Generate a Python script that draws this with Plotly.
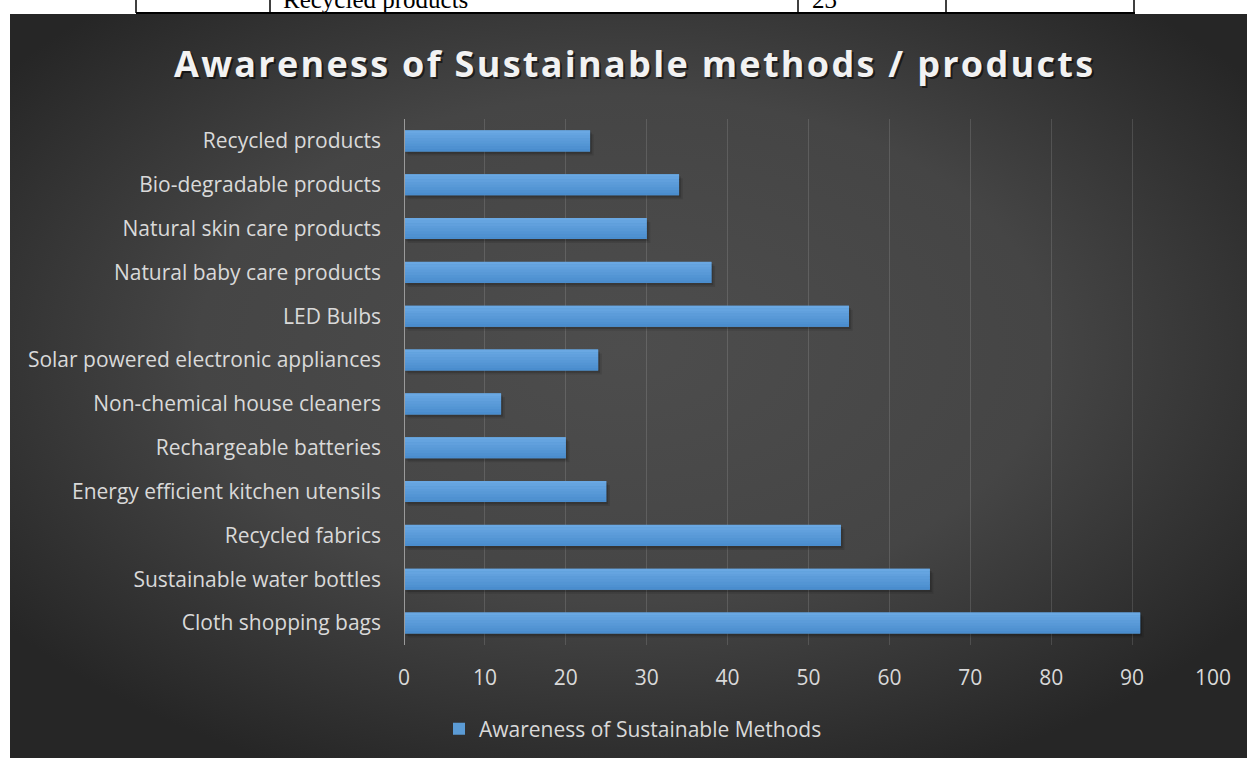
import base64
import plotly.graph_objects as go

W, H = 1247, 758

categories = [
    "Cloth shopping bags",
    "Sustainable water bottles",
    "Recycled fabrics",
    "Energy efficient kitchen utensils",
    "Rechargeable batteries",
    "Non-chemical house cleaners",
    "Solar powered electronic appliances",
    "LED Bulbs",
    "Natural baby care products",
    "Natural skin care products",
    "Bio-degradable products",
    "Recycled products",
]
values = [91, 65, 54, 25, 20, 12, 24, 55, 38, 30, 34, 23]
x_ticks = [0, 10, 20, 30, 40, 50, 60, 70, 80, 90, 100]
series_name = "Awareness of Sustainable Methods"
title_text = "Awareness of Sustainable methods / products"
table_cells = ["Recycled products", "23"]


def px(x):
    return x / W


def py(y):
    return 1 - y / H


FONT = "Open Sans"
TXT = "#d9d9d9"
FS = 21
BAR_W = 0.48

fig = go.Figure()
# soft shadow behind bars (two faint layers)
for sh_off, sh_base, sh_a in [(0.09, 0.45, 0.10), (0.05, 0.22, 0.16)]:
    fig.add_trace(go.Bar(
        x=values, y=categories, orientation="h", base=sh_base,
        offset=-BAR_W / 2 - sh_off, width=BAR_W,
        marker=dict(color="rgba(0,0,0,%.2f)" % sh_a, line=dict(width=0)),
        showlegend=False, hoverinfo="skip",
    ))
# main series
fig.add_trace(go.Bar(
    x=values, y=categories, orientation="h", name=series_name,
    offset=-BAR_W / 2, width=BAR_W,
    marker=dict(color="#5b9bd5", line=dict(width=0)),
))
# vertical shading bands (light top -> darker bottom)
top_rgb = (108, 170, 228)
bot_rgb = (72, 139, 205)
nb = 8
bw = BAR_W / nb
for k in range(nb):
    t = (k + 0.5) / nb
    col = "rgb(%d,%d,%d)" % tuple(round(a + (b - a) * t) for a, b in zip(top_rgb, bot_rgb))
    fig.add_trace(go.Bar(
        x=values, y=categories, orientation="h",
        offset=BAR_W / 2 - bw * (k + 1), width=bw * 1.02,
        marker=dict(color=col, line=dict(width=0)),
        showlegend=False, hoverinfo="skip",
    ))

svg = (
    "<svg xmlns='http://www.w3.org/2000/svg' width='1237' height='744' preserveAspectRatio='none'>"
    "<defs><radialGradient id='g' cx='50%' cy='45%' r='62%' gradientUnits='objectBoundingBox'>"
    "<stop offset='0' stop-color='#4d4d4d'/><stop offset='0.55' stop-color='#454545'/>"
    "<stop offset='1' stop-color='#262626'/></radialGradient></defs>"
    "<rect width='1237' height='744' fill='url(#g)'/></svg>"
)
src = "data:image/svg+xml;base64," + base64.b64encode(svg.encode()).decode()

shapes = []
# table fragment at top
shapes.append(dict(type="line", xref="paper", yref="paper", x0=px(136), x1=px(1135),
                   y0=py(13), y1=py(13), line=dict(color="black", width=2)))
for xv in [136, 270, 798, 946, 1134]:
    shapes.append(dict(type="line", xref="paper", yref="paper", x0=px(xv), x1=px(xv),
                       y0=py(0), y1=py(13), line=dict(color="black", width=1.5)))

title_html = "<span style='letter-spacing:2.3px'><b>" + title_text + "</b></span>"
annotations = [
    dict(text=table_cells[0], xref="paper", yref="paper", x=px(281), y=py(-1),
         xanchor="left", yanchor="middle", showarrow=False,
         font=dict(family="Liberation Serif", size=25, color="black")),
    dict(text=table_cells[1], xref="paper", yref="paper", x=px(810), y=py(-1),
         xanchor="left", yanchor="middle", showarrow=False,
         font=dict(family="Liberation Serif", size=25, color="black")),
    dict(text=title_html, xref="paper", yref="paper", x=px(636), y=py(65),
         xanchor="center", yanchor="middle", showarrow=False,
         font=dict(family=FONT, size=36, color="rgba(0,0,0,0.55)")),
    dict(text=title_html, xref="paper", yref="paper", x=px(634), y=py(63),
         xanchor="center", yanchor="middle", showarrow=False,
         font=dict(family=FONT, size=36, color="#f2f2f2")),
]

fig.update_layout(
    width=W, height=H, autosize=False,
    margin=dict(l=0, r=0, t=0, b=0, pad=0),
    paper_bgcolor="white", plot_bgcolor="rgba(0,0,0,0)",
    images=[dict(source=src, xref="paper", yref="paper", x=0.0, y=py(14),
                 sizex=1.0, sizey=(H - 14) / H, xanchor="left", yanchor="top",
                 sizing="stretch", layer="below")],
    shapes=shapes,
    annotations=annotations,
    showlegend=True,
    barmode="overlay",
    legend=dict(orientation="h", x=px(633), xanchor="center", y=py(729), yanchor="middle",
                bgcolor="rgba(0,0,0,0)", font=dict(family=FONT, size=FS, color=TXT)),
    xaxis=dict(domain=[px(404), px(1213)], range=[0, 100], tickvals=x_ticks,
               showgrid=True, gridcolor="rgba(255,255,255,0.13)", gridwidth=1,
               zeroline=False, showline=False, ticks="", automargin=False,
               tickfont=dict(family=FONT, size=FS, color=TXT), ticklabelstandoff=18,
               fixedrange=True),
    yaxis=dict(domain=[py(645), py(119)], type="category",
               categoryorder="array", categoryarray=categories,
               range=[-0.5, len(categories) - 0.5],
               showgrid=False, zeroline=False, automargin=False,
               showline=False, ticks="",
               tickfont=dict(family=FONT, size=FS, color=TXT), ticklabelstandoff=22,
               fixedrange=True),
)
# white strip on the left so the dark panel starts at x=10 px
fig.add_shape(type="rect", xref="paper", yref="paper", x0=0, x1=px(10), y0=0, y1=1,
              fillcolor="white", line=dict(width=0), layer="below")
# zero baseline (value axis at 0)
fig.add_shape(type="line", xref="x", yref="paper", x0=0, x1=0, y0=py(645), y1=py(119),
              line=dict(color="#9a9a9a", width=2), layer="above")

fig.write_html("out.html")
